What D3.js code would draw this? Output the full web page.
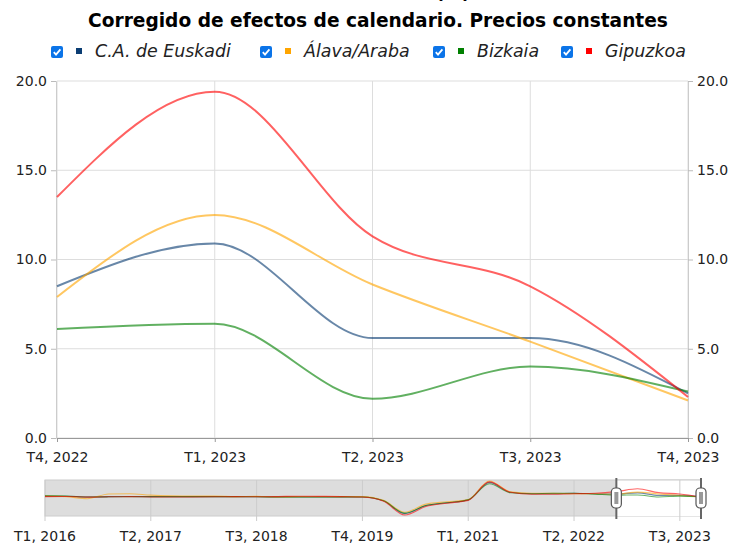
<!DOCTYPE html>
<html lang="es">
<head>
  <meta charset="UTF-8">
  <title>Corregido de efectos de calendario</title>
  <script src="https://d3js.org/d3.v7.min.js"></script>
  <style>
    body { margin: 0; background: #fff; }
    text { font-family: 'DejaVu Sans', Verdana, sans-serif; }
  </style>
</head>
<body>
  <div class="canvas"></div>
  <script>
    // series (quarterly, T1 2016 .. T4 2023)
    const quarters = [];
    for (let y = 2016; y <= 2023; y++) for (let q = 1; q <= 4; q++) quarters.push(`T${q}, ${y}`);

    const seriesNames = ['C.A. de Euskadi', 'Álava/Araba', 'Bizkaia', 'Gipuzkoa'];
    const seriesColors = ['#0b3d73', '#ffa500', '#008000', '#ff0000'];

    const euskadi = [4.0, 3.8, 2.0, 2.8, 3.2, 3.0, 2.8, 2.8, 3.0, 2.8, 2.5, 2.2, 2.3, 2.2, 2.3, 2.0,
      -6, -33, -16, -10, -4, 33, 12, 9, 9, 10, 9, 8.5, 10.9, 5.6, 5.6, 2.5];
    const alava = [4.5, 3.0, -1.5, 8.5, 9.0, 6.0, 4.5, 4.0, 4.0, 3.0, 3.5, 2.0, 2.8, 2.5, 3.0, 3.0,
      -5, -30, -13, -8, -3, 36, 13, 10, 10, 9, 9, 7.9, 12.5, 8.6, 5.4, 2.1];
    const bizkaia = [4.5, 4.2, 2.2, 2.5, 3.0, 3.0, 3.0, 2.8, 3.0, 2.8, 2.5, 2.3, 2.2, 2.0, 2.3, 2.0,
      -6, -32, -16, -10, -4, 30, 11, 9, 10, 10, 8, 6.1, 6.4, 2.2, 4.0, 2.6];
    const gipuzkoa = [3.0, 3.2, 1.8, 2.5, 2.8, 2.2, 2.0, 2.2, 2.5, 3.0, 2.5, 3.0, 3.8, 3.5, 2.8, 2.0,
      -7, -36, -18, -11, -5, 34, 12, 8, 8, 9, 10, 13.5, 19.4, 11.3, 8.5, 2.3];
    const allSeries = [euskadi, alava, bizkaia, gipuzkoa];

    // zoomed window: T4 2022 .. T4 2023
    const winStart = 27, winEnd = 31;
    const yTicks = [0, 5, 10, 15, 20];
    const navTicks = [0, 5, 10, 15, 20, 25, 30];

    const W = 731, H = 544;
    const svg = d3.select('.canvas').append('svg').attr('width', W).attr('height', H);

    // titles (first line is cut off at the top, as in the original)
    svg.append('text').attr('x', 453).attr('y', -1).attr('text-anchor', 'middle')
      .style('font-size', '18px').style('font-weight', 'bold').text('(%)');
    svg.append('text').attr('x', 378).attr('y', 27).attr('text-anchor', 'middle')
      .style('font-size', '18.6px').style('font-weight', 'bold').attr('fill', '#000')
      .text('Corregido de efectos de calendario. Precios constantes');

    // legend
    const legendX = [51, 260, 433, 561];
    const lg = svg.append('g').selectAll('g').data(seriesNames).join('g')
      .attr('transform', (d, i) => `translate(${legendX[i]}, 46)`);
    lg.append('rect').attr('width', 12).attr('height', 12).attr('rx', 2).attr('fill', '#0b74e8');
    lg.append('path').attr('d', 'M2.8,6.2 L5,8.6 L9.4,3.4').attr('fill', 'none')
      .attr('stroke', '#fff').attr('stroke-width', 1.8);
    lg.append('rect').attr('x', 25).attr('y', 2).attr('width', 6).attr('height', 6)
      .attr('fill', (d, i) => seriesColors[i]);
    lg.append('text').attr('x', 44).attr('y', 11).style('font-size', '17.4px')
      .style('font-style', 'italic').attr('fill', '#222').text(d => d);

    // main chart
    const x = d3.scaleLinear().domain([winStart, winEnd]).range([57, 688]);
    const y = d3.scaleLinear().domain([0, 20]).range([438, 81]);

    const grid = svg.append('g');
    grid.selectAll('.hg').data(yTicks).join('line')
      .attr('x1', 57).attr('x2', 688).attr('y1', d => y(d)).attr('y2', d => y(d))
      .attr('stroke', '#ddd');
    grid.selectAll('.vg').data(d3.range(winStart, winEnd + 1)).join('line')
      .attr('x1', d => x(d)).attr('x2', d => x(d)).attr('y1', 81).attr('y2', 438)
      .attr('stroke', '#ddd');

    const axisL = svg.append('g').attr('transform', 'translate(56,0)')
      .call(d3.axisLeft(y).tickValues(yTicks).tickFormat(d3.format('.1f')).tickSizeOuter(0).tickSize(5).tickPadding(4));
    const axisR = svg.append('g').attr('transform', 'translate(688,0)')
      .call(d3.axisRight(y).tickValues(yTicks).tickFormat(d3.format('.1f')).tickSizeOuter(0).tickSize(5).tickPadding(4));
    const axisB = svg.append('g').attr('transform', 'translate(0,438)')
      .call(d3.axisBottom(x).tickValues(d3.range(winStart, winEnd + 1)).tickFormat(i => quarters[i])
        .tickSizeOuter(0).tickSize(4).tickPadding(10));
    [axisL, axisR].forEach(a => {
      a.select('.domain').attr('stroke', '#ccc');
      a.selectAll('line').attr('stroke', '#bbb');
    });
    axisB.select('.domain').attr('stroke', '#999');
    axisB.selectAll('line').attr('stroke', '#999');
    svg.selectAll('.tick text').style('font-size', '14px').attr('fill', '#222');

    const line = d3.line().x(d => x(d[0])).y(d => y(d[1])).curve(d3.curveMonotoneX);
    svg.append('g').selectAll('path').data(allSeries).join('path')
      .attr('d', s => line(d3.range(winStart, winEnd + 1).map(i => [i, s[i]])))
      .attr('fill', 'none').attr('stroke', (d, i) => seriesColors[i])
      .attr('stroke-opacity', 0.62).attr('stroke-width', 2);

    // navigator
    const nx = d3.scaleLinear().domain([0, quarters.length - 1]).range([45, 701]);
    const ny = d3.scaleLinear().domain([-38, 38]).range([516, 480]);
    const nav = svg.append('g');
    nav.append('rect').attr('x', 45).attr('y', 480).attr('width', 656).attr('height', 36)
      .attr('fill', '#ddd').attr('stroke', '#ccc');
    nav.append('rect').attr('x', nx(winStart)).attr('y', 480).attr('width', nx(winEnd) - nx(winStart))
      .attr('height', 36).attr('fill', '#fff');
    nav.append('line').attr('x1', nx(winStart)).attr('x2', nx(winEnd)).attr('y1', 480).attr('y2', 480)
      .attr('stroke', '#ccc');
    nav.selectAll('.ng').data(navTicks).join('line')
      .attr('x1', d => nx(d)).attr('x2', d => nx(d)).attr('y1', 480).attr('y2', 521)
      .attr('stroke', '#ccc');
    nav.selectAll('.nt').data(navTicks).join('text')
      .attr('x', d => nx(d)).attr('y', 541).attr('text-anchor', 'middle')
      .style('font-size', '14px').attr('fill', '#222').text(d => quarters[d]);

    const nline = d3.line().x((d, i) => nx(i)).y(d => ny(d)).curve(d3.curveMonotoneX);
    nav.selectAll('.nl').data(allSeries).join('path')
      .attr('d', s => nline(s)).attr('fill', 'none')
      .attr('stroke', (d, i) => seriesColors[i]).attr('stroke-opacity', 0.6).attr('stroke-width', 1.1);

    // handles
    const hg = nav.selectAll('.h').data([winStart, winEnd]).join('g')
      .attr('transform', d => `translate(${nx(d)},0)`);
    hg.append('line').attr('y1', 478).attr('y2', 519).attr('stroke', '#666').attr('stroke-width', 2);
    hg.append('rect').attr('x', -5).attr('y', 488).attr('width', 10).attr('height', 20).attr('rx', 4)
      .attr('fill', '#fff').attr('stroke', '#555').attr('stroke-width', 1.2);
    hg.append('rect').attr('x', -2).attr('y', 492).attr('width', 4).attr('height', 12)
      .attr('fill', '#999');
  </script>
</body>
</html>
